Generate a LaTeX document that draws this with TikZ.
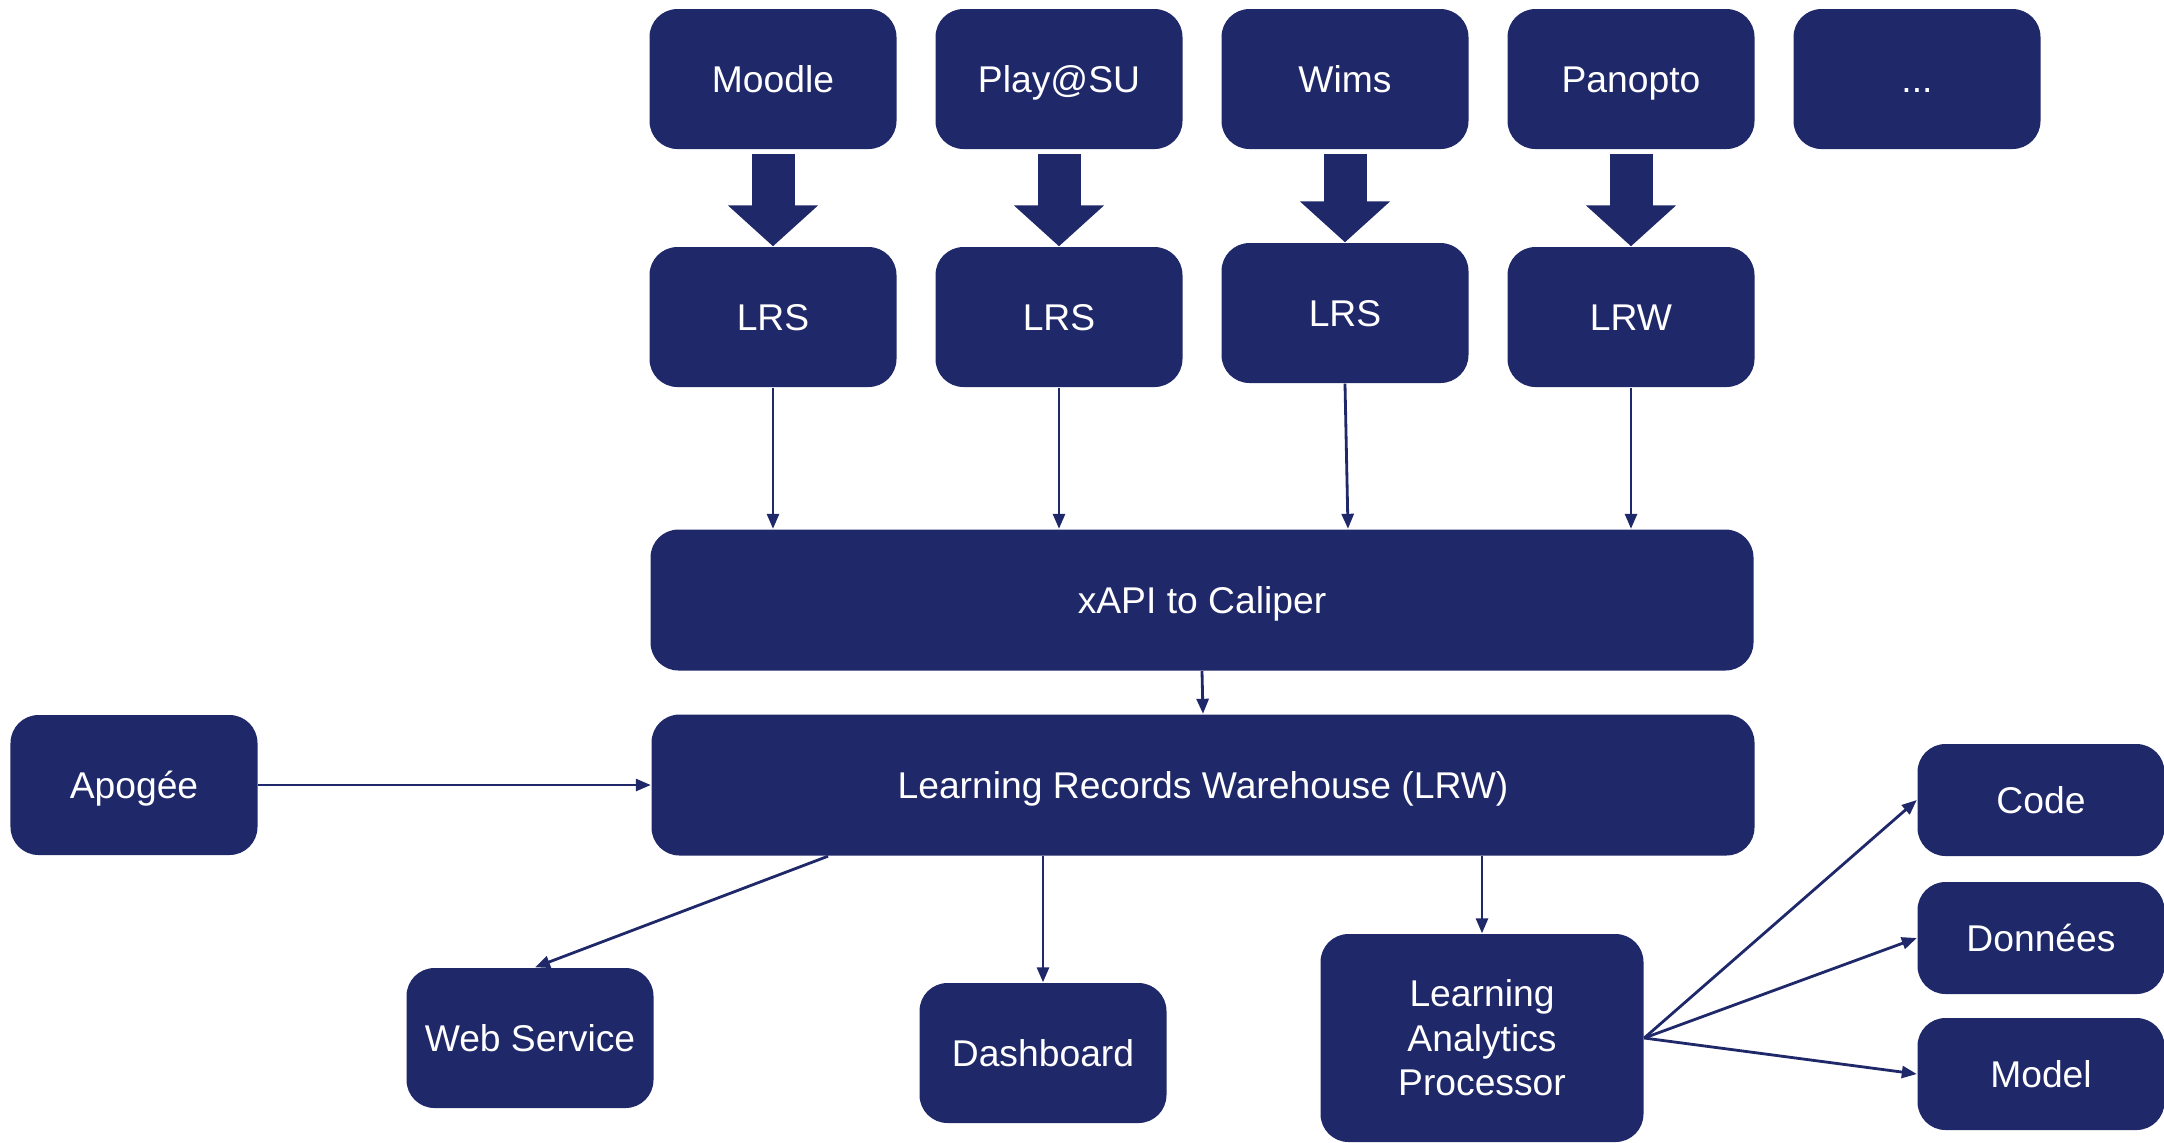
\documentclass[tikz,border=0pt]{standalone}
\usepackage{fontspec}
\setmainfont{Liberation Sans}
\usetikzlibrary{arrows.meta}
\definecolor{navy}{HTML}{1F2869}

\begin{document}
\begin{tikzpicture}[
        box/.style={fill=navy, text=white, rounded corners=0.28cm, inner sep=0pt, align=center,
            minimum width=2.47cm, minimum height=1.40cm, text height=0.34cm, text depth=0.07cm,
            font=\fontsize{10.6}{12.7}\selectfont},
        flow/.style={navy, line width=0.8pt, -{Triangle[length=0.15cm,width=0.12cm]}},
        bigflow/.style={navy, line width=0.43cm, -{Triangle[length=0.41cm,width=0.88cm]}}
    ]
    \useasboundingbox (0,0) rectangle (21.64,-11.42);

    % Spaltenabstand
    \def\dx{2.86}

    % Quellen
    \foreach \txt [count=\i] in {Moodle, Play@SU, Wims, Panopto, .{}.{}.} {
        \node[box] (src\i) at (4.87+\dx*\i, -0.79) {\txt};
    }

    % LRS / LRW
    \foreach \txt/\y [count=\i] in {LRS/3.17, LRS/3.17, LRS/3.13, LRW/3.17} {
        \node[box] (lrs\i) at (4.87+\dx*\i, -\y) {\txt};
    }

    % breite Blöcke
    \node[box, minimum width=11.03cm, minimum height=1.41cm] (xapi) at (12.02,-6.00) {xAPI to Caliper};
    \node[box, minimum width=11.03cm, minimum height=1.41cm] (lrw) at (12.03,-7.85) {Learning Records Warehouse (LRW)};
    \node[box] (apogee) at (1.34,-7.85) {Apogée};

    % Ausgaben
    \node[box] (websvc) at (5.30,-10.38) {Web Service};
    \node[box] (dashboard) at (10.43,-10.53) {Dashboard};
    \node[box, minimum width=3.23cm, minimum height=2.08cm, text height={}, text depth={}] (lap) at (14.82,-10.38) {Learning\\Analytics\\Processor};
    \node[box, minimum height=1.12cm] (code) at (20.41,-8.00) {Code};
    \node[box, minimum height=1.12cm] (donnees) at (20.41,-9.38) {Données};
    \node[box, minimum height=1.12cm] (model) at (20.41,-10.74) {Model};

    % dicke Pfeile
    \foreach \i in {1,...,4} {
        \draw[bigflow] ([yshift=-0.04cm]src\i.south) -- (lrs\i.north);
    }
    \foreach \i in {1,2,4} {
        \draw[flow] (lrs\i.south) -- (lrs\i.south |- xapi.north);
    }
    \draw[flow] (lrs3.south) -- ([xshift=0.03cm]lrs3.south |- xapi.north);

    % Verbindungen
    \draw[flow] (xapi.south) -- (lrw.north);
    \draw[flow] (apogee.east) -- (lrw.west);
    \draw[flow] ([xshift=-3.75cm]lrw.south) -- ([xshift=0.05cm]websvc.north);
    \draw[flow] (dashboard.north |- lrw.south) -- (dashboard.north);
    \draw[flow] (lap.north |- lrw.south) -- (lap.north);
    \foreach \t in {code, donnees, model} {
        \draw[flow] (lap.east) -- (\t.west);
    }
\end{tikzpicture}
\end{document}
